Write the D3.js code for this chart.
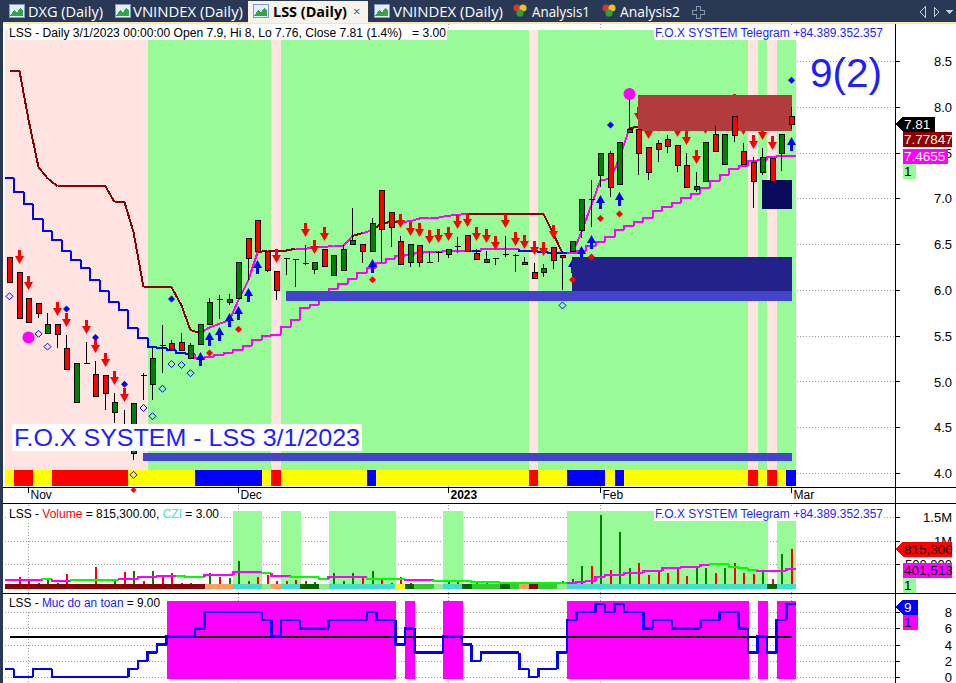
<!DOCTYPE html>
<meta charset="utf-8" />
<style>
  body { margin: 0; background: #fff; }
  svg { display: block; }
  text { font-family: 'Liberation Sans', Arial, sans-serif; white-space: pre; }
  .tab { font-family: 'Open Sans', 'Noto Sans', sans-serif; font-size: 14px; }
  .grid { stroke: #9a9a9a; stroke-width: 1; stroke-dasharray: 1,2; fill: none; }
</style>
<body>
<script src="https://d3js.org/d3.v7.min.js"></script>
<script>
// ---------- values (LSS daily, 28 Oct 2022 .. 1 Mar 2023) ----------
var opens = [6.36,6.19,5.91,5.86,5.53,5.63,5.36,4.78,5.20,5.08, 5.07,4.67,4.50,4.22,5.07,4.97,5.40,5.42,5.43,5.26,
  5.41,5.63,5.90,5.87,5.91,6.57,6.76,6.42,6.21,6.35, 6.34,6.29,6.23,6.45,6.16,6.22,6.50,6.50,6.43,7.09,
  6.85,6.53,6.30,6.49,6.31,6.41,6.39,6.48,6.60,6.40, 6.30,6.35,6.39,6.38,6.31,6.19,6.19,6.47,6.38,6.43,
  6.65,6.99,7.25,7.50,7.16,7.72,7.76,7.56,7.60,7.65, 7.58,7.36,7.10,7.19,7.70,7.38,7.90,7.52,7.40,7.29,
  7.44,7.49,7.90];
var highs = [6.36,6.19,5.91,5.86,5.75,5.63,5.51,5.20,5.43,5.22, 5.07,4.87,4.69,4.76,5.09,5.38,5.62,5.45,5.53,5.42,
  5.63,5.91,5.94,5.95,6.30,6.57,6.76,6.42,6.21,6.35, 6.34,6.49,6.30,6.45,6.38,6.49,6.89,6.50,6.78,7.09,
  6.85,6.59,6.50,6.49,6.41,6.43,6.45,6.58,6.60,6.45, 6.43,6.35,6.59,6.39,6.36,6.29,6.28,6.47,6.38,6.53,
  6.99,7.20,7.49,7.52,7.61,8.13,7.76,7.56,7.64,7.69, 7.58,7.49,7.29,7.62,7.79,7.70,7.90,7.60,7.45,7.55,
  7.44,7.70,8.00];
var lows = [6.09,5.69,5.65,5.69,5.53,5.36,5.14,4.78,5.20,4.84, 4.69,4.55,4.28,4.14,4.80,4.80,5.09,5.33,5.34,5.26,
  5.41,5.63,5.68,5.83,5.91,6.11,6.41,6.20,5.89,6.16, 6.03,6.27,6.17,6.26,6.16,6.22,6.50,6.29,6.43,6.30,
  6.47,6.28,6.25,6.25,6.30,6.30,6.35,6.40,6.42,6.34, 6.30,6.27,6.36,6.19,6.28,6.13,6.14,6.23,6.00,6.43,
  6.57,6.69,7.12,7.01,7.16,7.72,7.25,7.20,7.40,7.50, 7.29,7.12,7.07,7.19,7.52,7.38,7.61,7.38,6.89,7.25,
  7.19,7.30,7.76];
var closes = [6.09,5.69,5.65,5.75,5.63,5.52,5.14,5.20,5.20,4.84, 4.87,4.78,4.30,4.76,5.07,5.26,5.40,5.35,5.34,5.40,
  5.63,5.87,5.90,5.90,6.30,6.35,6.43,6.22,6.00,6.35, 6.34,6.29,6.30,6.26,6.38,6.45,6.54,6.42,6.73,6.66,
  6.69,6.28,6.50,6.30,6.31,6.41,6.45,6.48,6.42,6.34, 6.34,6.35,6.39,6.38,6.28,6.13,6.24,6.33,6.36,6.53,
  6.99,6.99,7.49,7.12,7.61,7.76,7.50,7.29,7.54,7.57, 7.36,7.12,7.13,7.62,7.52,7.70,7.69,7.38,7.19,7.45,
  7.19,7.70,7.81];

// fast stop line (dark red when above price, magenta when below)
var stopLine = [8.39,8.39,7.86,7.34,7.22,7.13,7.13,7.13,7.13,7.13, 7.13,6.96,6.96,6.63,6.03,6.03,6.03,6.03,5.83,5.56,
  5.53,5.59,5.63,5.67,5.89,6.11,6.41,6.43,6.43,6.43, 6.45,6.45,6.46,6.47,6.48,6.48,6.59,6.62,6.65,6.73,
  6.74,6.74,6.75,6.78,6.79,6.79,6.81,6.82,6.83,6.83, 6.83,6.83,6.83,6.83,6.83,6.83,6.83,6.61,6.40,6.40,
  6.63,6.93,7.20,7.21,7.44,7.77,7.778,7.778,7.778,7.778, 7.778,7.778,7.778,7.778,7.778,7.778,7.778,7.778,7.778,7.778,
  7.778,7.778,7.77847];
var stopUp = [0,0,0,0,0,0,0,0,0,0, 0,0,0,0,0,0,0,0,0,0, 0,1,1,1,1,1,1,0,0,0, 0,1,1,1,1,1,1,0,1,0,
  0,0,1,1,1,1,1,1,1,0, 0,0,0,0,0,0,0,0,0,1, 1,1,1,1,1,1,0,0,0,0, 0,0,0,0,0,0,0,0,0,0, 0,0,0];
// slow trend line (blue when above price, magenta when below), drawn as steps
var trendLine = [7.22,7.07,6.94,6.77,6.64,6.54,6.43,6.33,6.24,6.11, 5.99,5.87,5.78,5.58,5.47,5.38,5.36,5.34,5.31,5.30,
  5.26,5.27,5.29,5.31,5.34,5.39,5.45,5.50,5.51,5.59, 5.67,5.80,5.83,5.93,6.01,6.06,6.12,6.18,6.24,6.29,
  6.34,6.37,6.38,6.40,6.41,6.41,6.42,6.43,6.43,6.43, 6.45,6.45,6.45,6.45,6.43,6.42,6.41,6.40,6.40,6.40,
  6.43,6.48,6.52,6.58,6.65,6.70,6.74,6.79,6.86,6.91, 6.95,7.00,7.05,7.11,7.19,7.26,7.32,7.35,7.41,7.42,
  7.45,7.4655,7.4655];
var trendUp = [0,0,0,0,0,0,0,0,0,0, 0,0,0,0,0,0,0,0,0,0, 1,1,1,1,1,1,1,1,1,1, 1,1,1,1,1,1,1,1,1,1,
  1,1,1,1,1,1,1,1,1,0, 1,1,1,1,0,0,0,0,0,1, 1,1,1,1,1,1,1,1,1,1, 1,1,1,1,1,1,1,1,1,1, 1,1,1];

// background state per bar (P = pink, G = green) and bottom ribbon (Y / R / B)
var bgState = 'PPPPPPPPPPPPPPPGGGGGGGGGGGGGPGGGGGGGGGGGGGGGGGGGGGGGGGGPGGGGGGGGGGGGGGGGGGGGGGPGPGG'.split('');
var ribbon  = 'YRRYYRRRRRRRRYYYYYYYBBBBBBBYRYYYYYYYYYBYYYYYYYYYYYYYYYYRYYYBBBBYBYYYYYYYYYYYYYRYRYB'.split('');

var sellBars = [1,2,5,6,8,9,10,11,12,28,31,32,33,41,42,43,44,45,46,47,48,49,50,51,52,53,54,55,56,57,
  66,67,68,69,70,71,72,73,74,76,77,78,79,80];
var buyBars = [20,21,22,23,24,25,26,38,59,60,61,62,64,82];
var blueDots = [[6,5.79],[9,5.48],[12,4.97],[17,5.90],[63,7.80],[82,8.29]];
var redDots = [[21,5.31],[24,5.57],[38,6.11],[59,6.11],[61,6.36],[62,6.78],[64,6.83]];
var hollowDots = [[0,5.93],[3,5.52],[4,5.38],[13,3.98],[14,4.71],[15,4.62],[16,4.92],[17,5.19],[18,5.18],[19,5.09],[58,5.83]];
var bigDots = [[2,5.48],[65,8.14]];
// zones: [first bar, last bar, top price, bottom price, kind]
var zones = [[66,82,8.13,7.74,'supply'],[79,82,7.20,6.88,'demandSmall'],[59,82,6.36,5.99,'demand'],
  [29,82,5.99,5.88,'base'],[14,82,4.22,4.13,'base']];

// volume (thousands), its average and CZI state
var volumes = [84,232,148,105,169,105,295,84,84,443, 84,148,338,359,148,359,253,316,105,105,
  84,316,232,211,570,148,232,274,148,148, 169,148,127,42,316,148,316,232,359,211,
  105,232,105,84,63,63,148,148,63,105, 127,84,63,84,63,42,84,105,148,190,
  464,464,1540,380,1180,422,527,274,338,316, 422,253,443,422,316,422,527,316,295,338,
  190,717,815.3];
var volAvg = [169,169,169,169,190,148,148,169,169,169, 169,169,190,190,232,232,253,253,253,232,
  232,274,274,274,338,338,338,316,253,253, 232,232,232,190,232,232,232,232,190,190,
  190,190,169,169,169,148,148,148,148,127, 127,127,105,105,105,105,105,105,105,105,
  127,148,232,274,274,316,316,359,359,422, 422,443,443,485,506,506,443,422,380,359,
  359,359,401.513];
var volAvgUp = [1,1,1,1,0,1,1,0,0,0, 0,0,1,1,1,1,1,1,0,0, 0,1,1,1,1,1,1,0,1,1, 0,0,0,0,1,1,1,1,0,0,
  0,0,1,1,1,0,0,0,0,0, 0,0,0,0,0,0,0,0,0,1, 1,1,1,1,1,1,1,1,1,1, 1,1,1,1,0,0,0,0,0,1, 1,1,1];
var czi = 'DDDDDDDDDDDDDDDDDDDDDOOOTTTLOTTKKLTTTTTTTYKGGLTTKGGGKGODGGLTTTTTTTTTTTTTTTTTTTTTKTT'.split('');

// "Muc do an toan" (safety level)
var safety = [1,0,0,1,1,0,0,0,0,0, 0,0,0,1,2,3,4,5,5,5, 6,8,8,8,8,8,8,7,5,7, 7,6,6,6,7,7,7,7,8,7,
  7,4,6,3,3,3,5,5,4,2, 3,3,3,3,1,0,1,1,3,7, 8,8,9,8,9,8,8,6,7,7, 6,6,6,7,7,8,8,6,3,5, 3,7,9];

var monthTicks = [2,24,46,62,82];
var monthLabels = ['Nov','Dec','2023','Feb','Mar'];
var priceTicks = [4,4.5,5,5.5,6,6.5,7,7.5,8,8.5];
var volTicks = [500000,1000000,1500000];
var volTickLabels = ['500,000','1M','1.5M'];
var safetyTicks = [0,2,4,6,8];

// ---------- layout ----------
var W = 956, H = 683, N = opens.length;
var axisX = 895;
var colors = {
  pink: '#ffe4e1', green: '#98fb98', up: '#008000', down: '#ff0000',
  Y: '#ffff00', R: '#ff0000', B: '#0000ff',
  supply: '#b23c3c', demandSmall: '#0b0b5e', demand: '#22228a', base: '#4343cc',
  D: '#8b0000', O: '#ffa060', T: '#40e0d0', L: '#90ee90', K: '#006400', G: '#32cd32',
  text: '#1e1eff'
};

var x = d3.scaleBand().domain(d3.range(N)).range([4.5, 795.8]);
var bw = x.bandwidth();
function cx(i) { return Math.round(x(i) + bw / 2) + 0.5; }
var yMain = d3.scaleLinear().domain([4, 8.5]).range([473, 61]);
var yVol = d3.scaleLinear().domain([0, 1500000]).range([588, 517]);
var ySafe = d3.scaleLinear().domain([0, 8]).range([677, 612]);

var svg = d3.select('body').append('svg').attr('width', W).attr('height', H)
  .attr('shape-rendering', 'crispEdges');
svg.append('rect').attr('width', W).attr('height', H).attr('fill', '#fff');

// ---------- tab bar ----------
var tabs = svg.append('g');
tabs.append('rect').attr('width', W).attr('height', 22).attr('fill', '#293955');
tabs.append('rect').attr('y', 22).attr('width', W).attr('height', 2).attr('fill', '#fde6a4');
tabs.append('rect').attr('x', 248).attr('y', 1).attr('width', 120).attr('height', 22).attr('fill', '#f6f3ea');
function chartIcon(x0) {
  tabs.append('rect').attr('x', x0).attr('y', 4).attr('width', 15).attr('height', 13)
    .attr('fill', '#e4edf9').attr('stroke', '#7d9cc9');
  tabs.append('path').attr('d', 'M' + (x0 + 1) + ',16 L' + (x0 + 5) + ',10 L' + (x0 + 8) + ',13 L' + (x0 + 11) + ',8 L' + (x0 + 14) + ',11 L' + (x0 + 14) + ',16 Z')
    .attr('fill', '#36a24a');
}
function analysisIcon(x0) {
  [['#e03030', 0, 0], ['#f0c020', 6, 0], ['#30a030', 3, 5]].forEach(function (d) {
    tabs.append('circle').attr('cx', x0 + 4 + d[1]).attr('cy', 8 + d[2]).attr('r', 3.6).attr('fill', d[0])
      .attr('shape-rendering', 'auto');
  });
}
var tabDefs = [
  { icon: 'chart', ix: 9, tx: 28, label: 'DXG (Daily)', len: 75 },
  { icon: 'chart', ix: 115, tx: 133, label: 'VNINDEX (Daily)', len: 110 },
  { icon: 'chart', ix: 253, tx: 273, label: 'LSS (Daily)', len: 74, active: true },
  { icon: 'chart', ix: 374, tx: 393, label: 'VNINDEX (Daily)', len: 110 },
  { icon: 'an', ix: 513, tx: 532, label: 'Analysis1', len: 58 },
  { icon: 'an', ix: 602, tx: 620, label: 'Analysis2', len: 60 }
];
tabDefs.forEach(function (t) {
  if (t.icon === 'chart') chartIcon(t.ix); else analysisIcon(t.ix);
  tabs.append('text').attr('class', 'tab').attr('x', t.tx).attr('y', 17)
    .attr('textLength', t.len).attr('lengthAdjust', 'spacingAndGlyphs')
    .attr('fill', t.active ? '#000' : '#fff').attr('font-weight', t.active ? 'bold' : 'normal')
    .text(t.label);
});
tabs.append('text').attr('class', 'tab').attr('x', 353).attr('y', 16).attr('fill', '#555').style('font-size', '13px').text('\u00d7');
tabs.append('path').attr('d', 'M696,6 h4 v4 h4 v4 h-4 v4 h-4 v-4 h-4 v-4 h4 Z').attr('fill', 'none').attr('stroke', '#8a94a8');
tabs.append('path').attr('d', 'M925,7 L920,12 L925,17 Z').attr('fill', 'none').attr('stroke', '#c8cdd8');
tabs.append('path').attr('d', 'M934,7 L939,12 L934,17 Z').attr('fill', 'none').attr('stroke', '#c8cdd8');
tabs.append('path').attr('d', 'M946,10 L953,10 L949.5,14 Z').attr('fill', '#c8cdd8');

// left frame strip
svg.append('rect').attr('x', 0).attr('y', 22).attr('width', 3).attr('height', H - 22).attr('fill', '#293955');

// ---------- helpers ----------
function hGrid(g, ys) {
  ys.forEach(function (yy) {
    g.append('line').attr('class', 'grid').attr('x1', 5).attr('x2', axisX).attr('y1', Math.round(yy) + 0.5).attr('y2', Math.round(yy) + 0.5);
  });
}
function vGrid(g, y0, y1) {
  monthTicks.forEach(function (i) {
    g.append('line').attr('class', 'grid').attr('x1', cx(i)).attr('x2', cx(i)).attr('y1', y0).attr('y2', y1);
  });
}
function boxedText(g, x0, y0, parts, size, len, pad) {
  var t = g.append('text').attr('x', x0).attr('y', y0).style('font-size', size + 'px');
  parts.forEach(function (p) { t.append('tspan').attr('fill', p[1]).text(p[0]); });
  if (len) t.attr('textLength', len).attr('lengthAdjust', 'spacingAndGlyphs');
  var b = t.node().getBBox();
  pad = pad || 1;
  g.insert('rect', function () { return t.node(); })
    .attr('x', b.x - pad).attr('y', b.y).attr('width', b.width + 2 * pad).attr('height', b.height).attr('fill', '#fff');
  return t;
}
function tag(g, yc, label, bg, fg, arrow, x1) {
  var x0 = 903, h = 15;
  var top = yc - h / 2;
  if (arrow) {
    g.append('path').attr('d', 'M896,' + yc + ' L' + x0 + ',' + top + ' L' + x1 + ',' + top + ' L' + x1 + ',' + (top + h) + ' L' + x0 + ',' + (top + h) + ' Z').attr('fill', bg);
  } else {
    g.append('rect').attr('x', x0).attr('y', top).attr('width', x1 - x0).attr('height', h).attr('fill', bg);
  }
  g.append('text').attr('x', x0 + 1).attr('y', yc + 5).attr('fill', fg).style('font-size', '13.5px').text(label);
}
function rightAxis(g, scale, ticks, fmt) {
  var ax = d3.axisRight(scale).tickValues(ticks).tickSize(5).tickPadding(0).tickFormat(fmt);
  var a = g.append('g').attr('transform', 'translate(' + axisX + ',0)').call(ax);
  a.select('.domain').remove();
  a.selectAll('line').attr('stroke', '#000');
  a.selectAll('text').attr('x', 57).attr('text-anchor', 'end').attr('dy', '0.35em')
    .style('font-size', '13px').style('font-family', "'Liberation Sans', Arial, sans-serif").attr('fill', '#000');
  return a;
}

// ---------- main price pane ----------
var gMain = svg.append('g');
hGrid(gMain, priceTicks.map(yMain));
vGrid(gMain, 24, 487);
d3.range(N).forEach(function (i) {
  gMain.append('rect').attr('x', x(i)).attr('y', 30).attr('width', bw + 0.5).attr('height', 440)
    .attr('fill', bgState[i] === 'P' ? colors.pink : colors.green);
});

// stop line (segments)
d3.range(1, N).forEach(function (i) {
  gMain.append('line').attr('x1', cx(i - 1)).attr('y1', yMain(stopLine[i - 1])).attr('x2', cx(i)).attr('y2', yMain(stopLine[i]))
    .attr('stroke', stopUp[i] ? '#ff00ff' : '#8b0000').attr('stroke-width', 2);
});
// trend line (steps)
function stepPath(g, vals, scale, colorFn, width) {
  d3.range(N).forEach(function (i) {
    var x0 = x(i), x1 = x(i) + bw, yy = scale(vals[i]);
    var d = i > 0 ? 'M' + x0 + ',' + scale(vals[i - 1]) + ' V' + yy + ' H' + x1 : 'M' + x0 + ',' + yy + ' H' + x1;
    g.append('path').attr('d', d).attr('fill', 'none').attr('stroke', colorFn(i)).attr('stroke-width', width);
  });
}
stepPath(gMain, trendLine, yMain, function (i) { return trendUp[i] ? '#ff00ff' : '#0000ff'; }, 2);

// signal arrows
sellBars.forEach(function (i) {
  var c = cx(i), t = Math.round(yMain(highs[i]) - 8);
  gMain.append('path').attr('d', 'M' + (c - 1.5) + ',' + (t - 14) + ' h3 v6 h3 L' + c + ',' + t + ' L' + (c - 4.5) + ',' + (t - 8) + ' h3 Z')
    .attr('fill', '#ff0000').attr('shape-rendering', 'auto');
});
buyBars.forEach(function (i) {
  var c = cx(i), t = Math.round(yMain(lows[i]) + 8);
  gMain.append('path').attr('d', 'M' + (c - 1.5) + ',' + (t + 14) + ' h3 v-6 h3 L' + c + ',' + t + ' L' + (c - 4.5) + ',' + (t + 8) + ' h3 Z')
    .attr('fill', '#0000ff').attr('shape-rendering', 'auto');
});

// zones
zones.forEach(function (z) {
  gMain.append('rect').attr('x', cx(z[0]) - 1).attr('y', yMain(z[2])).attr('width', cx(z[1]) - cx(z[0]) + 1)
    .attr('height', yMain(z[3]) - yMain(z[2])).attr('fill', colors[z[4]]);
});

// candles
d3.range(N).forEach(function (i) {
  var c = cx(i), o = opens[i], cl = closes[i];
  gMain.append('line').attr('x1', c).attr('x2', c).attr('y1', yMain(highs[i])).attr('y2', yMain(lows[i])).attr('stroke', '#000');
  if (o === cl) {
    var yy = Math.round(yMain(o)) + 0.5;
    gMain.append('line').attr('x1', c - 3).attr('x2', c + 3).attr('y1', yy).attr('y2', yy).attr('stroke', '#000').attr('stroke-width', 1.5);
  } else {
    var top = Math.round(yMain(Math.max(o, cl))), bot = Math.round(yMain(Math.min(o, cl)));
    gMain.append('rect').attr('x', c - 2.5).attr('y', top + 0.5).attr('width', 5).attr('height', Math.max(1, bot - top))
      .attr('fill', cl > o ? colors.up : colors.down).attr('stroke', '#000');
  }
});

// dots
function diamond(c, yy, r) { return 'M' + c + ',' + (yy - r) + ' L' + (c + r) + ',' + yy + ' L' + c + ',' + (yy + r) + ' L' + (c - r) + ',' + yy + ' Z'; }
blueDots.forEach(function (d) { gMain.append('path').attr('d', diamond(cx(d[0]), yMain(d[1]), 3.5)).attr('fill', '#0000ff').attr('shape-rendering', 'auto'); });
redDots.forEach(function (d) { gMain.append('path').attr('d', diamond(cx(d[0]), yMain(d[1]), 3.5)).attr('fill', '#ff0000').attr('shape-rendering', 'auto'); });
bigDots.forEach(function (d) { gMain.append('circle').attr('cx', cx(d[0])).attr('cy', yMain(d[1])).attr('r', 6).attr('fill', '#ff00ff').attr('shape-rendering', 'auto'); });

// ribbon
d3.range(N).forEach(function (i) {
  gMain.append('rect').attr('x', x(i)).attr('y', 470).attr('width', bw + 0.5).attr('height', 16).attr('fill', colors[ribbon[i]]);
});
hollowDots.forEach(function (d) {
  gMain.append('path').attr('d', diamond(cx(d[0]), yMain(d[1]), 3.5)).attr('fill', 'none').attr('stroke', '#0000ff').attr('shape-rendering', 'auto');
});

// texts in main pane
boxedText(gMain, 9, 37, [['LSS - Daily 3/1/2023 00:00:00 Open 7.9, Hi 8, Lo 7.76, Close 7.81 (1.4%)   = 3.00', '#000']], 12, 437);
boxedText(gMain, 655, 37, [['F.O.X SYSTEM Telegram +84.389.352.357', colors.text]], 12.5, 228);
gMain.append('text').attr('x', 810).attr('y', 87).attr('fill', colors.text).style('font-size', '40px')
  .attr('textLength', 72).attr('lengthAdjust', 'spacingAndGlyphs').text('9(2)');
boxedText(gMain, 14, 446, [['F.O.X SYSTEM - LSS 3/1/2023', colors.text]], 24.5, 346, 2);

rightAxis(gMain, yMain, priceTicks, d3.format('.1f'));
var lastClose = closes[N - 1];
tag(gMain, Math.round(yMain(lastClose)), '7.81', '#000', '#fff', true, 935);
tag(gMain, Math.round(yMain(lastClose)) + 15, '7.77847', '#8b0000', '#fff', false, 952);
tag(gMain, Math.round(yMain(trendLine[N - 1])), '7.4655', '#ff00ff', '#fff', false, 948);
tag(gMain, Math.round(yMain(trendLine[N - 1])) + 15, '1', colors.green, '#000', false, 916);

// ---------- date axis ----------
var gx = svg.append('g');
gx.append('line').attr('x1', 3).attr('x2', W).attr('y1', 487.5).attr('y2', 487.5).attr('stroke', '#000');
monthTicks.forEach(function (i, k) {
  gx.append('line').attr('x1', cx(i)).attr('x2', cx(i)).attr('y1', 488).attr('y2', 493).attr('stroke', '#000');
  gx.append('text').attr('x', cx(i) + 2).attr('y', 499).style('font-size', '12px')
    .attr('font-weight', monthLabels[k] === '2023' ? 'bold' : 'normal').text(monthLabels[k]);
});
gx.append('path').attr('d', diamond(cx(13), 490, 3)).attr('fill', '#ff0000').attr('shape-rendering', 'auto');
gx.append('line').attr('x1', 3).attr('x2', W).attr('y1', 503.5).attr('y2', 503.5).attr('stroke', '#000');

// ---------- volume pane ----------
var gVol = svg.append('g');
hGrid(gVol, volTicks.map(yVol));
vGrid(gVol, 505, 593);
d3.range(N).forEach(function (i) {
  if (czi[i] === 'T') gVol.append('rect').attr('x', x(i)).attr('y', 511).attr('width', bw + 0.5).attr('height', 78).attr('fill', colors.green);
});
d3.range(N).forEach(function (i) {
  gVol.append('line').attr('x1', cx(i)).attr('x2', cx(i)).attr('y1', yVol(0)).attr('y2', yVol(volumes[i] * 1000))
    .attr('stroke', closes[i] > opens[i] ? colors.up : colors.down).attr('stroke-width', 2);
});
stepPath(gVol, volAvg.map(function (v) { return v * 1000; }), yVol, function (i) { return volAvgUp[i] ? '#ff00ff' : '#00ff00'; }, 2.5);
d3.range(N).forEach(function (i) {
  gVol.append('rect').attr('x', x(i)).attr('y', 584).attr('width', bw + 0.5).attr('height', 5).attr('fill', colors[czi[i]]);
});
boxedText(gVol, 9, 518, [['LSS - ', '#000'], ['Volume', '#ff0000'], [' = 815,300.00, ', '#000'], ['CZI', '#40e0d0'], [' = 3.00', '#000']], 12, 210);
boxedText(gVol, 655, 518, [['F.O.X SYSTEM Telegram +84.389.352.357', colors.text]], 12.5, 228);
rightAxis(gVol, yVol, volTicks, function (d, k) { return volTickLabels[k]; });
tag(gVol, Math.round(yVol(volumes[N - 1] * 1000)), '815,300', '#ff0000', '#000', true, 952);
tag(gVol, Math.round(yVol(volAvg[N - 1] * 1000)) + 1, '401,513', '#ff00ff', '#000', false, 952);
tag(gVol, Math.round(yVol(volAvg[N - 1] * 1000)) + 16, '1', colors.green, '#000', false, 916);
gVol.append('line').attr('x1', 3).attr('x2', W).attr('y1', 593.5).attr('y2', 593.5).attr('stroke', '#000');

// ---------- safety pane ----------
var gS = svg.append('g');
hGrid(gS, safetyTicks.map(ySafe));
vGrid(gS, 594, 683);
d3.range(N).forEach(function (i) {
  if (safety[i] >= 5) gS.append('rect').attr('x', x(i)).attr('y', 601).attr('width', bw + 0.5).attr('height', 78).attr('fill', '#ff00ff');
});
gS.append('line').attr('x1', cx(0)).attr('x2', cx(N - 1)).attr('y1', Math.round(ySafe(5)) + 0.5).attr('y2', Math.round(ySafe(5)) + 0.5)
  .attr('stroke', '#000').attr('stroke-width', 2);
stepPath(gS, safety, ySafe, function () { return '#0000ff'; }, 2.5);
boxedText(gS, 9, 607, [['LSS - ', '#000'], ['Muc do an toan', '#2020ff'], [' = 9.00', '#000']], 12, 151);
rightAxis(gS, ySafe, safetyTicks, d3.format('d'));
tag(gS, 607, '9', '#0000ff', '#fff', true, 918);
tag(gS, 622, '1', '#ff00ff', '#000', false, 918);

// right axis line
svg.append('line').attr('x1', axisX + 0.5).attr('x2', axisX + 0.5).attr('y1', 24).attr('y2', H).attr('stroke', '#000');
</script>
</body>
